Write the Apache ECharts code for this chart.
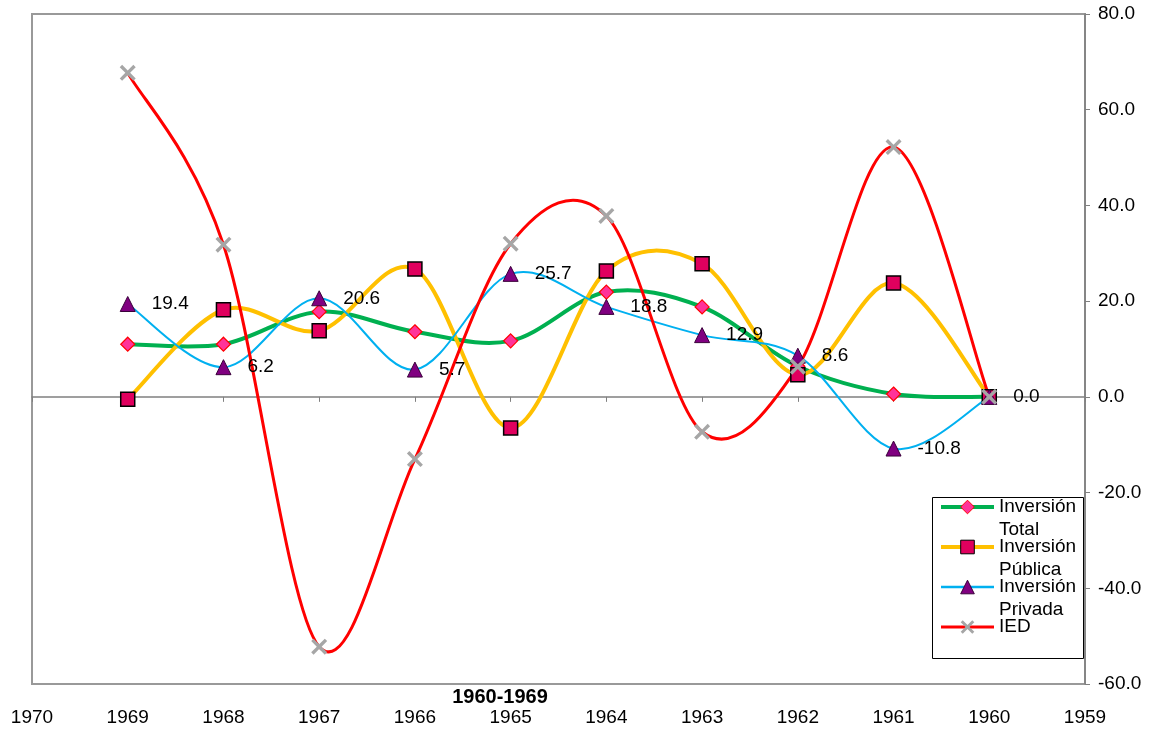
<!DOCTYPE html>
<html>
<head>
<meta charset="utf-8">
<script src="https://cdn.jsdelivr.net/npm/echarts@6/dist/echarts.min.js"></script>
<style>
  html, body { margin: 0; padding: 0; background: #ffffff; }
  #chart { width: 1158px; height: 730px; }
</style>
</head>
<body>
<div id="chart"></div>
<script>
// Years shown on the chart (left to right)
const years = [1969, 1968, 1967, 1966, 1965, 1964, 1963, 1962, 1961, 1960];

// Growth rates, %
const inversionTotal   = [11.0, 11.0, 17.8, 13.6, 11.7, 21.9, 18.8, 6.4, 0.6, 0.0];
const inversionPublica = [-0.5, 18.2, 13.8, 26.7, -6.5, 26.3, 27.8, 4.6, 23.8, 0.0];
const inversionPrivada = [19.4, 6.2, 20.6, 5.7, 25.7, 18.8, 12.9, 8.6, -10.8, 0.0];
const ied              = [67.7, 31.8, -52.2, -13.0, 32.0, 37.8, -7.3, 6.3, 52.2, 0.0];

// Axis ranges
const yearMin = 1959, yearMax = 1970;
const valMin = -60, valMax = 80, valStep = 20;
const periodLabel = '1960-1969';

const FONT = '"Liberation Sans", Arial, sans-serif';
const X_PATH = 'path://M3,0 L10,7 L17,0 L20,3 L13,10 L20,17 L17,20 L10,13 L3,20 L0,17 L7,10 L0,3 Z';

function pairs(values) {
  return years.map((y, i) => [y, values[i]]);
}

// Smoothed connecting curve (Catmull-Rom style bezier through the data points)
function curveSeries(name, values, color, width) {
  const pts = pairs(values);
  return {
    type: 'custom',
    name: name,
    coordinateSystem: 'cartesian2d',
    xAxisIndex: 0,
    yAxisIndex: 0,
    data: pts,
    encode: { x: 0, y: 1 },
    z: 2,
    silent: true,
    renderItem: function (params, api) {
      const i = params.dataIndex;
      if (i >= pts.length - 1) return null;
      const c = pts.map(p => api.coord(p));
      const p0 = c[Math.max(i - 1, 0)];
      const p1 = c[i];
      const p2 = c[i + 1];
      const p3 = c[Math.min(i + 2, c.length - 1)];
      const k = 1 / 6;
      return {
        type: 'bezierCurve',
        shape: {
          x1: p1[0], y1: p1[1],
          x2: p2[0], y2: p2[1],
          cpx1: p1[0] + (p2[0] - p0[0]) * k,
          cpy1: p1[1] + (p2[1] - p0[1]) * k,
          cpx2: p2[0] - (p3[0] - p1[0]) * k,
          cpy2: p2[1] - (p3[1] - p1[1]) * k
        },
        style: { stroke: color, lineWidth: width, fill: 'none' }
      };
    }
  };
}

// Markers (and labels) for each series
function markerSeries(name, values, symbol, size, itemStyle, label) {
  return {
    type: 'line',
    name: name,
    data: pairs(values),
    xAxisIndex: 0,
    yAxisIndex: 0,
    symbol: symbol,
    symbolSize: size,
    showAllSymbol: true,
    itemStyle: itemStyle,
    lineStyle: { opacity: 0 },
    label: label || { show: false },
    emphasis: { disabled: true },
    z: 3
  };
}

// Legend text: first word beside the key, the rest on the following line.
// Every entry is three lines tall so that all entries share the same layout box.
function legendText(name) {
  const parts = name.split(' ');
  const rest = parts.length > 1 ? parts.slice(1).join(' ') : '\u00A0';
  return '\u00A0\n' + parts[0] + '\n' + rest;
}

const colors = {
  total: '#00B050',
  publica: '#FFC000',
  privada: '#00B0F0',
  ied: '#FF0000'
};

const chart = echarts.init(document.getElementById('chart'), null, { renderer: 'canvas' });

chart.setOption({
  animation: false,
  backgroundColor: '#ffffff',
  textStyle: { fontFamily: FONT },
  grid: {
    left: 32, right: 73, top: 14, bottom: 46,
    show: true, borderColor: '#999999', borderWidth: 2, backgroundColor: '#ffffff'
  },
  xAxis: [
    {
      type: 'value', min: yearMin, max: yearMax, interval: 1, inverse: true,
      position: 'bottom',
      axisLine: { show: true, onZero: true, lineStyle: { color: '#808080', width: 1.5 } },
      axisTick: { show: true, inside: false, length: 5, lineStyle: { color: '#808080', width: 1 } },
      axisLabel: { show: false },
      splitLine: { show: false }
    },
    {
      type: 'value', min: yearMin, max: yearMax, interval: 1, inverse: true,
      position: 'bottom',
      axisLine: { show: false, onZero: false },
      axisTick: { show: false },
      axisLabel: {
        show: true, margin: 24, fontSize: 19, color: '#000000', fontFamily: FONT,
        formatter: v => String(v)
      },
      splitLine: { show: false }
    }
  ],
  yAxis: {
    type: 'value', position: 'right',
    min: valMin, max: valMax, interval: valStep,
    axisLine: { show: true, lineStyle: { color: '#808080', width: 1.5 } },
    axisTick: { show: true, inside: false, length: 5, lineStyle: { color: '#808080' } },
    axisLabel: {
      margin: 13, fontSize: 19, color: '#000000', fontFamily: FONT,
      formatter: v => v.toFixed(1)
    },
    splitLine: { show: false }
  },
  legend: {
    orient: 'vertical',
    left: 939,
    top: 472.5,
    padding: 0,
    itemGap: -29,
    itemWidth: 53,
    itemHeight: 17,
    selectedMode: false,
    formatter: legendText,
    textStyle: {
      fontSize: 19, lineHeight: 23, color: '#000000', fontFamily: FONT
    },
    itemStyle: { borderWidth: 1 },
    data: [
      { name: 'Inversión Total',   lineStyle: { color: colors.total,   width: 4, opacity: 1 } },
      { name: 'Inversión Pública', lineStyle: { color: colors.publica, width: 4, opacity: 1 } },
      { name: 'Inversión Privada', lineStyle: { color: colors.privada, width: 2.5, opacity: 1 } },
      { name: 'IED',               lineStyle: { color: colors.ied,     width: 3, opacity: 1 }, itemStyle: { borderWidth: 0 } }
    ]
  },
  graphic: [
    {
      type: 'rect', z: 3,
      shape: { x: 932.5, y: 497.5, width: 151, height: 161 },
      style: { fill: '#ffffff', stroke: '#000000', lineWidth: 1 }
    },
    {
      type: 'text', z: 5,
      x: 500, y: 697,
      style: {
        text: periodLabel, fill: '#000000',
        font: 'bold 20px ' + FONT,
        textAlign: 'center', textVerticalAlign: 'middle'
      }
    }
  ],
  series: [
    markerSeries('Inversión Total', inversionTotal, 'diamond', 14,
      { color: '#FF3399', borderColor: '#FF0000', borderWidth: 1.2 }),
    markerSeries('Inversión Pública', inversionPublica, 'rect', 14,
      { color: '#E0005E', borderColor: '#000000', borderWidth: 1.5 }),
    markerSeries('Inversión Privada', inversionPrivada, 'triangle', 15,
      { color: '#800080', borderColor: '#3a003a', borderWidth: 1 },
      {
        show: true, position: 'right', distance: 16,
        fontSize: 19, color: '#000000', fontFamily: FONT,
        formatter: p => p.value[1].toFixed(1)
      }),
    markerSeries('IED', ied, X_PATH, 16,
      { color: '#A6A6A6', borderWidth: 0 }),
    curveSeries('Inversión Total', inversionTotal, colors.total, 4),
    curveSeries('Inversión Pública', inversionPublica, colors.publica, 4),
    curveSeries('Inversión Privada', inversionPrivada, colors.privada, 2),
    curveSeries('IED', ied, colors.ied, 3)
  ]
});
</script>
</body>
</html>
